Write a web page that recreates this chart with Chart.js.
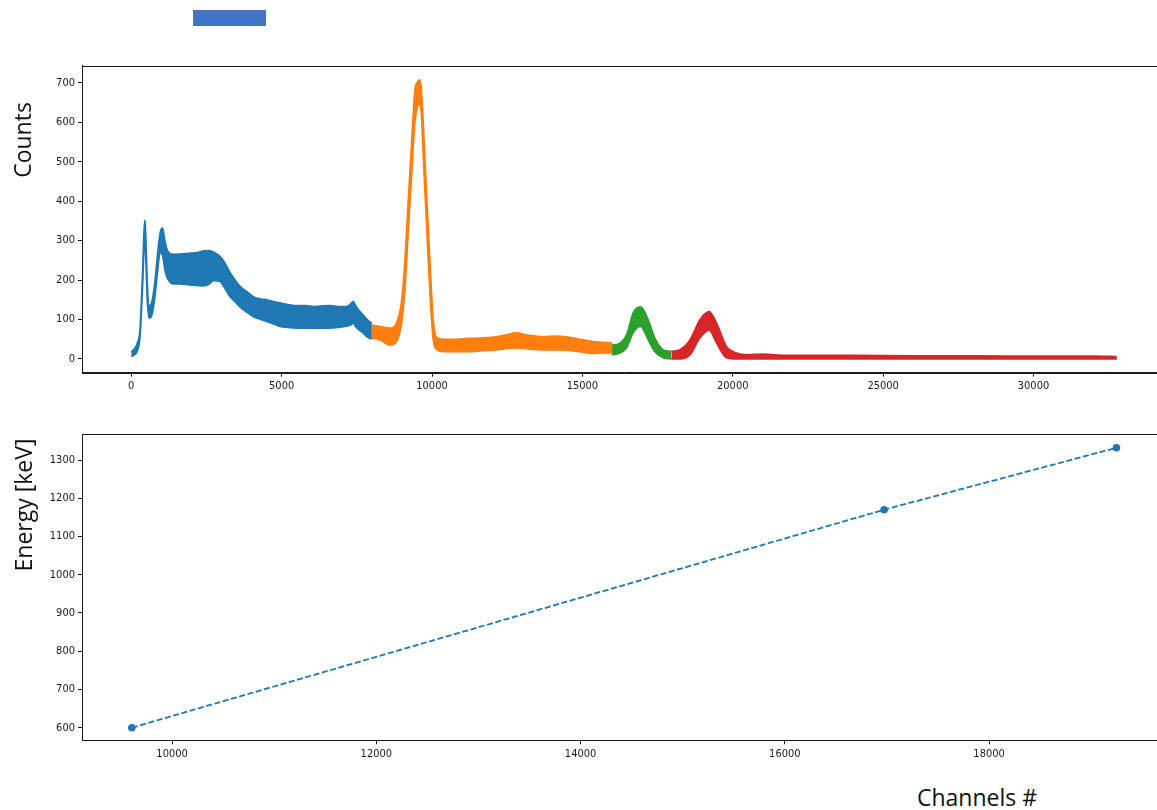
<!DOCTYPE html>
<html>
<head>
<meta charset="utf-8">
<script src="https://cdn.jsdelivr.net/npm/chart.js@4/dist/chart.umd.min.js"></script>
<style>
  html, body { margin: 0; padding: 0; background: #fff; overflow: hidden; }
  body { width: 1157px; height: 810px; position: relative; }
  canvas { position: absolute; left: 0; }
  #spec { top: 0; }
  #cal { top: 400px; }
  .lbl { position: absolute; font-family: "Open Sans", "DejaVu Sans", sans-serif; font-size: 23px; color: #111; white-space: nowrap; line-height: 1; }
  .rot { transform: translate(-50%, -50%) rotate(-90deg); }
  #marker { position: absolute; left: 193px; top: 10px; width: 73px; height: 16px; background: #4472C4; }
</style>
</head>
<body>
<div id="marker"></div>
<canvas id="spec" width="1170" height="400"></canvas>
<canvas id="cal" width="1170" height="380"></canvas>
<div class="lbl rot" style="left:22px; top:140px;">Counts</div>
<div class="lbl rot" style="left:23px; top:505px;">Energy [keV]</div>
<div class="lbl" style="left:917px; top:786px;">Channels #</div>
<script>
// Gamma spectrum, split into four channel ranges; each range is drawn as a
// band between the upper and lower edge of the noisy count trace.
const blueCh = [0, 100, 200, 290, 380, 420, 455, 490, 530, 600, 700, 790, 880, 960, 1040, 1120, 1200, 1400, 1620, 1900, 2200, 2400, 2600, 2730, 2950, 3100, 3280, 3450, 3610, 3850, 4060, 4300, 4500, 4750, 4945, 5200, 5500, 5800, 6050, 6300, 6600, 6900, 7160, 7300, 7380, 7460, 7550, 7715, 7850, 8000];
const blueHi = [18, 25, 40, 75, 230, 320, 352, 300, 200, 135, 150, 200, 270, 320, 332, 300, 275, 265, 266, 268, 270, 274, 275, 271, 260, 245, 220, 200, 185, 170, 158, 152, 150, 145, 142, 138, 135, 135, 133, 134, 135, 133, 133, 140, 146, 135, 125, 111, 100, 90];
const blueLo = [6, 10, 20, 55, 190, 270, 300, 240, 150, 103, 115, 160, 225, 270, 262, 225, 205, 190, 190, 188, 186, 185, 190, 198, 196, 180, 158, 145, 132, 118, 107, 100, 95, 88, 82, 80, 78, 78, 78, 78, 78, 80, 83, 86, 90, 82, 75, 65, 55, 50];

const orangeCh = [7990, 8270, 8600, 8820, 8990, 9100, 9210, 9320, 9430, 9500, 9575, 9640, 9710, 9820, 9930, 10040, 10170, 10400, 10800, 11200, 11600, 12000, 12400, 12810, 13200, 13690, 14100, 14470, 14900, 15360, 15700, 16000];
const orangeHi = [86, 82, 78, 91, 149, 251, 403, 547, 682, 700, 708, 690, 598, 420, 251, 99, 53, 50, 50, 52, 53, 55, 60, 66, 60, 56, 58, 56, 50, 44, 42, 40];
const orangeLo = [53, 48, 35, 44, 91, 175, 319, 461, 598, 635, 645, 625, 512, 335, 167, 48, 23, 18, 18, 18, 20, 22, 25, 28, 25, 23, 23, 22, 18, 14, 15, 15];

const greenCh = [15970, 16250, 16470, 16690, 16935, 17190, 17410, 17690, 17960];
const greenHi = [35, 40, 61, 117, 132, 99, 53, 23, 19];
const greenLo = [10, 15, 28, 66, 82, 48, 18, 3, 0];

const redCh = [17960, 18240, 18575, 18905, 19215, 19460, 19795, 20125, 20500, 21000, 21500, 22500, 24000, 26000, 28000, 30000, 32000, 32767];
const redHi = [19, 23, 48, 99, 120, 91, 31, 15, 11, 12, 10, 9, 9, 8, 8, 7, 7, 6];
const redLo = [0, 0, 10, 53, 73, 40, 3, 0, 0, 0, 0, 0, 0, 0, 0, 0, 0, 0];

// Energy calibration points (peak channel -> known gamma energy)
const calChannels = [9606, 16972, 19247];
const calEnergies = [600, 1170, 1332];

// Tick values
const countTicks = [0, 100, 200, 300, 400, 500, 600, 700];
const channelTicks = [0, 5000, 10000, 15000, 20000, 25000, 30000];
const energyTicks = [600, 700, 800, 900, 1000, 1100, 1200, 1300];
const calChannelTicks = [10000, 12000, 14000, 16000, 18000];

const C_BLUE = '#1f77b4', C_ORANGE = '#ff7f0e', C_GREEN = '#2ca02c', C_RED = '#d62728';
const INK = '#1a1a1a';
const tickFont = { family: '"DejaVu Sans Condensed", "DejaVu Sans", sans-serif', size: 11 };

const pts = (xs, ys) => xs.map((x, i) => ({ x: x, y: ys[i] }));

function band(xs, hi, lo, color) {
  const common = { borderColor: color, backgroundColor: color, borderWidth: 1.6, pointRadius: 0, cubicInterpolationMode: 'monotone', borderJoinStyle: 'round' };
  return [
    Object.assign({ data: pts(xs, hi), fill: false }, common),
    Object.assign({ data: pts(xs, lo), fill: '-1' }, common)
  ];
}

// Frame around the plotting area (matplotlib-style spines)
const framePlugin = {
  id: 'frame',
  afterDraw(chart) {
    const a = chart.chartArea, ctx = chart.ctx;
    ctx.save();
    ctx.strokeStyle = INK;
    ctx.lineWidth = 1;
    ctx.strokeRect(Math.round(a.left) + 0.5, Math.round(a.top) + 0.5, Math.round(a.right - a.left), Math.round(a.bottom - a.top));
    ctx.restore();
  }
};

function axis(extra, tickValues, size) {
  return Object.assign({
    type: 'linear',
    grid: { display: true, drawOnChartArea: false, drawTicks: true, tickLength: 4, color: INK, lineWidth: 1 },
    border: { display: true, color: INK, width: 1 },
    ticks: { color: INK, font: tickFont, padding: 3, autoSkip: false, maxRotation: 0, callback: v => String(v) },
    afterBuildTicks: s => { s.ticks = tickValues.map(v => ({ value: v })); },
    afterFit: s => { if (size.w !== undefined) s.width = size.w; if (size.h !== undefined) s.height = size.h; }
  }, extra);
}

Chart.defaults.animation = false;

new Chart(document.getElementById('spec'), {
  type: 'line',
  data: {
    datasets: [].concat(
      band(blueCh, blueHi, blueLo, C_BLUE),
      band(orangeCh, orangeHi, orangeLo, C_ORANGE),
      band(greenCh, greenHi, greenLo, C_GREEN),
      band(redCh, redHi, redLo, C_RED)
    )
  },
  options: {
    responsive: false,
    devicePixelRatio: 1,
    layout: { padding: { top: 65.5, left: 0, right: 4, bottom: 0 } },
    plugins: { legend: { display: false }, tooltip: { enabled: false } },
    scales: {
      x: axis({ min: -1638, max: 34405 }, channelTicks, { h: 27.3 }),
      y: axis({ min: -35, max: 744 }, countTicks, { w: 82 })
    }
  },
  plugins: [framePlugin]
});

new Chart(document.getElementById('cal'), {
  type: 'line',
  data: {
    datasets: [{
      data: pts(calChannels, calEnergies),
      borderColor: C_BLUE,
      backgroundColor: C_BLUE,
      borderWidth: 1.8,
      borderDash: [6, 2.6],
      pointRadius: 3.8,
      pointBorderWidth: 0,
      pointBackgroundColor: C_BLUE,
      tension: 0,
      fill: false
    }]
  },
  options: {
    responsive: false,
    devicePixelRatio: 1,
    layout: { padding: { top: 34, left: 0, right: 4, bottom: 0 } },
    plugins: { legend: { display: false }, tooltip: { enabled: false } },
    scales: {
      x: axis({ min: 9118, max: 19732 }, calChannelTicks, { h: 39.7 }),
      y: axis({ min: 567, max: 1368 }, energyTicks, { w: 82 })
    }
  },
  plugins: [framePlugin]
});
</script>
</body>
</html>
